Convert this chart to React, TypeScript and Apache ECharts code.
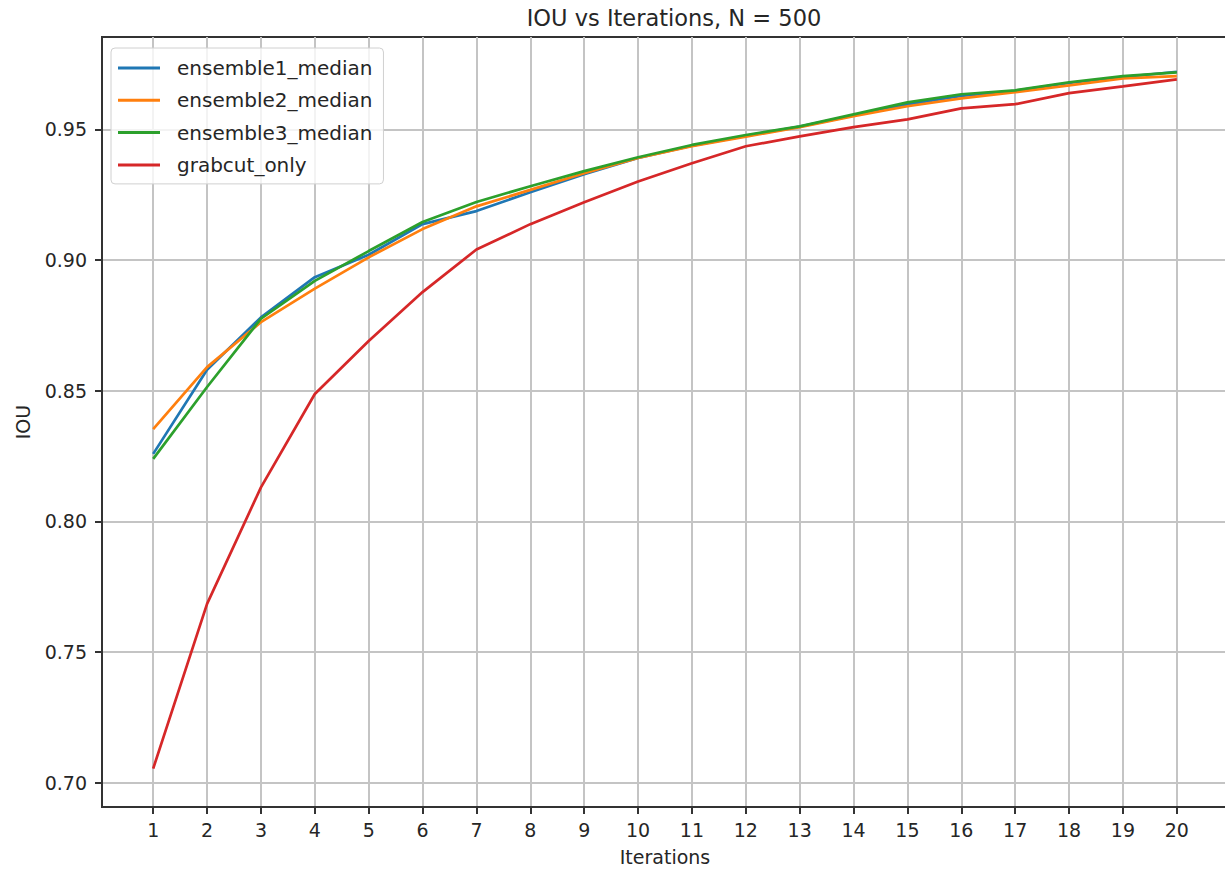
import React, { useEffect, useRef } from "react";
import * as echarts from "echarts";

const iterations = [1, 2, 3, 4, 5, 6, 7, 8, 9, 10, 11, 12, 13, 14, 15, 16, 17, 18, 19, 20];
const yTickValues = [0.7, 0.75, 0.8, 0.85, 0.9, 0.95];

const ensemble1 = [0.8258, 0.858, 0.878, 0.8934, 0.902, 0.9137, 0.9187, 0.9259, 0.9328, 0.939, 0.9437, 0.9475, 0.951, 0.9553, 0.9595, 0.9628, 0.9647, 0.9677, 0.97, 0.972];
const ensemble2 = [0.8353, 0.859, 0.8762, 0.889, 0.901, 0.9118, 0.9205, 0.9268, 0.9332, 0.939, 0.9435, 0.9472, 0.9508, 0.955, 0.9588, 0.9618, 0.9642, 0.9668, 0.9695, 0.9703];
const ensemble3 = [0.8239, 0.8514, 0.8775, 0.892, 0.9034, 0.9145, 0.9222, 0.9282, 0.934, 0.9393, 0.944, 0.9478, 0.9511, 0.9557, 0.9603, 0.9634, 0.9649, 0.968, 0.9703, 0.9718];
const grabcut = [0.7054, 0.7684, 0.813, 0.8487, 0.869, 0.8877, 0.904, 0.9137, 0.9221, 0.93, 0.937, 0.9435, 0.9473, 0.9508, 0.9538, 0.958, 0.9596, 0.9638, 0.9664, 0.9691];

const seriesNames = ["ensemble1_median", "ensemble2_median", "ensemble3_median", "grabcut_only"];
const seriesValues = [ensemble1, ensemble2, ensemble3, grabcut];
const colors = ["#1f77b4", "#ff7f0e", "#2ca02c", "#d62728"];

const FONT = "DejaVu Sans";

export default function App() {
  const ref = useRef<HTMLDivElement>(null);
  useEffect(() => {
    if (!ref.current) return;
    const chart = echarts.init(ref.current, undefined, { renderer: "svg" });
    const option: any = {
      animation: false,
      backgroundColor: "#ffffff",
      color: colors,
      graphic: [
        {
          type: "text",
          x: 674,
          y: 6,
          style: {
            text: "IOU vs Iterations, N = 500",
            textAlign: "center",
            fill: "#262626",
            font: `22.5px "${FONT}"`,
          },
        },
      ],
      grid: {
        left: 102,
        top: 37,
        right: 12,
        bottom: 64,
        containLabel: false,
        show: true,
        borderColor: "#333",
        borderWidth: 2,
        backgroundColor: "transparent",
      },
      legend: {
        orient: "vertical",
        left: 111,
        top: 48,
        padding: [10, 11, 9, 7],
        itemWidth: 42,
        itemHeight: 3,
        itemGap: 12.3,
        icon: "rect",
        backgroundColor: "rgba(255,255,255,0.8)",
        borderColor: "#d0d0d0",
        borderWidth: 1,
        borderRadius: 4,
        textStyle: {
          fontFamily: FONT,
          fontSize: 20,
          color: "#262626",
          lineHeight: 20,
          padding: [0, 0, 0, 12],
        },
        data: seriesNames,
      },
      xAxis: {
        type: "value",
        min: 0.05,
        max: 20.95,
        minInterval: 1,
        maxInterval: 1,
        name: "Iterations",
        nameLocation: "middle",
        nameGap: 40,
        nameTextStyle: { fontFamily: FONT, fontSize: 19, color: "#262626" },
        axisLine: { show: true, onZero: false, lineStyle: { color: "#333", width: 2 } },
        axisTick: { show: true, length: 7, customValues: iterations, lineStyle: { color: "#333", width: 2 } },
        axisLabel: {
          customValues: iterations,
          margin: 13,
          fontFamily: FONT,
          fontSize: 19,
          color: "#262626",
        },
        splitLine: { show: true, lineStyle: { color: "#c4c4c4", width: 2 } },
      },
      yAxis: {
        type: "value",
        min: 0.6907,
        max: 0.9853,
        minInterval: 0.05,
        maxInterval: 0.05,
        name: "IOU",
        nameLocation: "middle",
        nameGap: 70,
        nameTextStyle: { fontFamily: FONT, fontSize: 19, color: "#262626" },
        axisLine: { show: true, onZero: false, lineStyle: { color: "#333", width: 2 } },
        axisTick: { show: true, length: 7, customValues: yTickValues, lineStyle: { color: "#333", width: 2 } },
        axisLabel: {
          customValues: yTickValues,
          margin: 15,
          fontFamily: FONT,
          fontSize: 19,
          color: "#262626",
          formatter: (v: number) => v.toFixed(2),
        },
        splitLine: { show: true, lineStyle: { color: "#c4c4c4", width: 2 } },
      },
      series: seriesNames.map((name, i) => ({
        name,
        type: "line",
        showSymbol: false,
        symbol: "none",
        lineStyle: { width: 2.7, color: colors[i] },
        itemStyle: { color: colors[i] },
        data: iterations.map((x, j) => [x, seriesValues[i][j]]),
        z: 2 + i,
      })),
    };
    chart.setOption(option);
    return () => chart.dispose();
  }, []);
  return (
    <div style={{ position: "absolute", left: 0, top: 0, width: 1225, height: 871, overflow: "hidden" }}>
      <div ref={ref} style={{ position: "absolute", left: 0, top: 0, width: 1240, height: 871 }} />
    </div>
  );
}
